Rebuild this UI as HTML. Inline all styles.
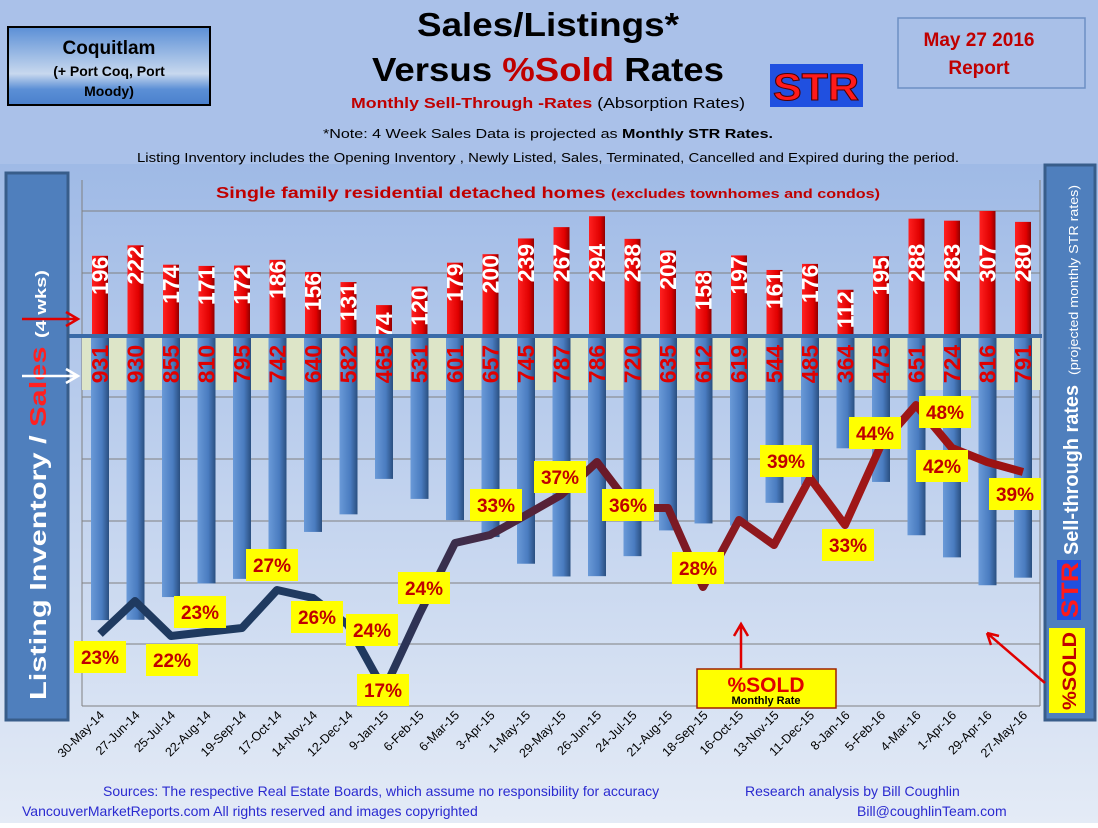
<!DOCTYPE html>
<html><head><meta charset="utf-8"><style>
body{margin:0;width:1098px;height:823px;overflow:hidden;font-family:"Liberation Sans",sans-serif}
</style></head><body>
<svg width="1098" height="823" xmlns="http://www.w3.org/2000/svg" font-family="Liberation Sans, sans-serif">
<defs>
<linearGradient id="bg" x1="0" y1="0" x2="0" y2="1"><stop offset="0" stop-color="#9fbae6"/><stop offset="1" stop-color="#e4ebf6"/></linearGradient>
<linearGradient id="cq" x1="0" y1="0" x2="0" y2="1"><stop offset="0" stop-color="#5b8fd6"/><stop offset="0.6" stop-color="#c8d8ee"/><stop offset="0.8" stop-color="#5b8fd6"/><stop offset="1" stop-color="#4a80cc"/></linearGradient>
<linearGradient id="ln" x1="0" y1="0" x2="1098" y2="0" gradientUnits="userSpaceOnUse"><stop offset="0.33" stop-color="#1f3a60"/><stop offset="0.55" stop-color="#6a1a2a"/><stop offset="0.75" stop-color="#a01818"/><stop offset="1" stop-color="#9a1010"/></linearGradient>
<linearGradient id="rb" x1="0" y1="0" x2="1" y2="0"><stop offset="0" stop-color="#ff2020"/><stop offset="0.7" stop-color="#e00000"/><stop offset="1" stop-color="#900000"/></linearGradient>
<linearGradient id="bb" x1="0" y1="0" x2="1" y2="0"><stop offset="0" stop-color="#6a9ad8"/><stop offset="0.6" stop-color="#4a7cc0"/><stop offset="1" stop-color="#2a4f80"/></linearGradient>
</defs>
<rect width="1098" height="823" fill="#aac1e9"/>
<rect y="164" width="1098" height="659" fill="url(#bg)"/>
<!-- header -->
<rect x="8" y="27" width="202" height="78" fill="url(#cq)" stroke="#000" stroke-width="2"/>
<text x="109" y="54" font-size="19" font-weight="bold" text-anchor="middle">Coquitlam</text>
<text x="109" y="76" font-size="14" font-weight="bold" text-anchor="middle">(+ Port Coq, Port</text>
<text x="109" y="96" font-size="14" font-weight="bold" text-anchor="middle">Moody)</text>
<text x="548" y="36" font-size="33" font-weight="bold" text-anchor="middle" textLength="262" lengthAdjust="spacingAndGlyphs">Sales/Listings*</text>
<text x="548" y="81" font-size="33" font-weight="bold" text-anchor="middle" textLength="352" lengthAdjust="spacingAndGlyphs">Versus <tspan fill="#c00000">%Sold</tspan> Rates</text>
<text x="548" y="108" font-size="15" text-anchor="middle" textLength="394" lengthAdjust="spacingAndGlyphs"><tspan fill="#c00000" font-weight="bold">Monthly Sell-Through -Rates</tspan> (Absorption Rates)</text>
<rect x="770" y="64" width="93" height="43" fill="#2050e0"/>
<text x="816" y="100" font-size="38" font-weight="bold" fill="#ff1a1a" stroke="#500000" stroke-width="1" text-anchor="middle" textLength="86" lengthAdjust="spacingAndGlyphs">STR</text>
<rect x="898" y="18" width="187" height="70" fill="#a9c0e8" stroke="#6d8fc4" stroke-width="1.5"/>
<text x="979" y="46" font-size="19" font-weight="bold" fill="#c00000" text-anchor="middle">May 27 2016</text>
<text x="979" y="74" font-size="19" font-weight="bold" fill="#c00000" text-anchor="middle">Report</text>
<text x="548" y="138" font-size="13" text-anchor="middle" textLength="450" lengthAdjust="spacingAndGlyphs">*Note: 4 Week Sales Data is projected as <tspan font-weight="bold">Monthly STR Rates.</tspan></text>
<text x="548" y="162" font-size="13" text-anchor="middle" textLength="822" lengthAdjust="spacingAndGlyphs">Listing Inventory includes the Opening Inventory , Newly Listed, Sales, Terminated, Cancelled and Expired during the period.</text>
<!-- plot -->
<text x="548" y="198" font-size="16" font-weight="bold" fill="#c00000" text-anchor="middle" textLength="664" lengthAdjust="spacingAndGlyphs">Single family residential detached homes <tspan font-size="13">(excludes townhomes and condos)</tspan></text>
<g stroke="#808080" stroke-width="1">
<line x1="82" y1="211" x2="1040" y2="211"/><line x1="82" y1="273" x2="1040" y2="273"/>
<line x1="82" y1="397" x2="1040" y2="397"/><line x1="82" y1="459" x2="1040" y2="459"/>
<line x1="82" y1="521" x2="1040" y2="521"/><line x1="82" y1="583" x2="1040" y2="583"/>
<line x1="82" y1="644" x2="1040" y2="644"/><line x1="82" y1="706" x2="1040" y2="706"/>
<line x1="82" y1="180" x2="82" y2="706"/><line x1="1040" y1="180" x2="1040" y2="706"/>
</g>
<rect x="82" y="338" width="958" height="52" fill="#dde5c8"/>
<g id="bars"></g>
<line x1="68" y1="336" x2="1042" y2="336" stroke="#3a6aa8" stroke-width="4"/>
<polyline fill="none" stroke="url(#ln)" stroke-width="8" stroke-linejoin="round" points="100,634 135,601 171,636 206,632 242,628 277,590 313,598 348,625 384,690 419,615 455,543 490,535 526,515 561,495 597,462 632,508 668,508 703,587 739,520 774,545 810,478 845,525 881,445 916,405 952,448 987,462 1023,472"/>
<g id="pl"></g>
<g id="dates"></g>
<!-- side panels -->
<rect x="6" y="173" width="62" height="547" fill="#4f7fbd" stroke="#385d8a" stroke-width="3"/>
<text transform="translate(46,700) rotate(-90)" font-size="23" font-weight="bold" fill="#fff" textLength="430" lengthAdjust="spacingAndGlyphs">Listing Inventory / <tspan fill="#ff2020">Sales</tspan> <tspan font-size="15">(4 wks)</tspan></text>
<path d="M22,319 H76 M66,312 L78,319 L66,326" stroke="#e00000" stroke-width="2.5" fill="none"/>
<path d="M22,376 H76 M66,369 L78,376 L66,383" stroke="#fff" stroke-width="2.5" fill="none"/>
<rect x="1045" y="165" width="50" height="555" fill="#4f7fbd" stroke="#385d8a" stroke-width="3"/>
<text transform="translate(1078,555) rotate(-90)" font-size="20" font-weight="bold" fill="#fff" textLength="170" lengthAdjust="spacingAndGlyphs">Sell-through rates</text>
<text transform="translate(1078,375) rotate(-90)" font-size="13" fill="#fff" textLength="190" lengthAdjust="spacingAndGlyphs">(projected monthly STR rates)</text>
<rect x="1057" y="560" width="24" height="60" fill="#2050e0"/>
<text transform="translate(1078,618) rotate(-90)" font-size="24" font-weight="bold" fill="#ff1a1a" textLength="56" lengthAdjust="spacingAndGlyphs">STR</text>
<rect x="1049" y="628" width="36" height="85" fill="#ffff00"/>
<text transform="translate(1076,710) rotate(-90)" font-size="19" font-weight="bold" fill="#c00000" textLength="78" lengthAdjust="spacingAndGlyphs">%SOLD</text>
<path d="M1045,683 L987,633 M987,633 l4,12 M987,633 l12,3" stroke="#e00000" stroke-width="2.5" fill="none"/>
<path d="M741,668 V626 M734,636 L741,624 L748,636" stroke="#e00000" stroke-width="2.5" fill="none"/>
<rect x="697" y="669" width="139" height="39" fill="#ffff00" stroke="#a02000" stroke-width="1.5"/>
<text x="766" y="692" font-size="21" font-weight="bold" fill="#e00000" text-anchor="middle">%SOLD</text>
<text x="766" y="704" font-size="11" font-weight="bold" fill="#000" text-anchor="middle">Monthly Rate</text>
<!-- footer -->
<g font-size="14" fill="#2a2ad0">
<text x="103" y="796">Sources:  The respective Real Estate Boards, which assume no responsibility for accuracy</text>
<text x="745" y="796">Research analysis  by Bill Coughlin</text>
<text x="22" y="816">VancouverMarketReports.com      All rights reserved and  images copyrighted</text>
<text x="857" y="816">Bill@coughlinTeam.com</text>
</g>
</svg>
<script>
var S=[196,222,174,171,172,186,156,131,74,120,179,200,239,267,294,238,209,158,197,161,176,112,195,288,283,307,280];
var L=[931,930,855,810,795,742,640,582,465,531,601,657,745,787,786,720,635,612,619,544,485,364,475,651,724,816,791];
var D=["30-May-14","27-Jun-14","25-Jul-14","22-Aug-14","19-Sep-14","17-Oct-14","14-Nov-14","12-Dec-14","9-Jan-15","6-Feb-15","6-Mar-15","3-Apr-15","1-May-15","29-May-15","26-Jun-15","24-Jul-15","21-Aug-15","18-Sep-15","16-Oct-15","13-Nov-15","11-Dec-15","8-Jan-16","5-Feb-16","4-Mar-16","1-Apr-16","29-Apr-16","27-May-16"];
var ns="http://www.w3.org/2000/svg",b=document.getElementById("bars"),dt=document.getElementById("dates");
function el(t,a,p,tx){var e=document.createElementNS(ns,t);for(var k in a)e.setAttribute(k,a[k]);if(tx)e.textContent=tx;p.appendChild(e);return e;}
for(var i=0;i<27;i++){var x=100+35.5*i;
var bh=L[i]*0.303;el("rect",{x:x-9,y:338,width:18,height:bh,fill:"url(#bb)"},b);
var h=S[i]*0.404;el("rect",{x:x-8,y:335-h,width:16,height:h,fill:"url(#rb)"},b);
var cy=Math.max(335-h+20,263);
el("text",{transform:"translate("+(x+8)+","+cy+") rotate(-90)","font-size":23,"font-weight":"bold",fill:"#fff","text-anchor":"middle"},b,S[i]);
el("text",{transform:"translate("+(x+8)+",364) rotate(-90)","font-size":23,"font-weight":"bold",fill:"#e00000","text-anchor":"middle"},b,L[i]);
el("text",{transform:"translate("+(x+5)+",716) rotate(-45)","font-size":12.5,fill:"#000","text-anchor":"end"},dt,D[i]);}
var P=[[100,657,"23%"],[172,660,"22%"],[200,612,"23%"],[272,565,"27%"],[317,617,"26%"],[372,630,"24%"],[383,690,"17%"],[424,588,"24%"],[496,505,"33%"],[560,477,"37%"],[628,505,"36%"],[698,568,"28%"],[786,461,"39%"],[848,545,"33%"],[875,433,"44%"],[945,412,"48%"],[942,466,"42%"],[1015,494,"39%"]];
var pl=document.getElementById("pl");
P.forEach(function(p){el("rect",{x:p[0]-26,y:p[1]-16,width:52,height:32,fill:"#ffff00"},pl);
el("text",{x:p[0],y:p[1]+7,"font-size":19,"font-weight":"bold",fill:"#c00000","text-anchor":"middle"},pl,p[2]);});
</script>
</body></html>
